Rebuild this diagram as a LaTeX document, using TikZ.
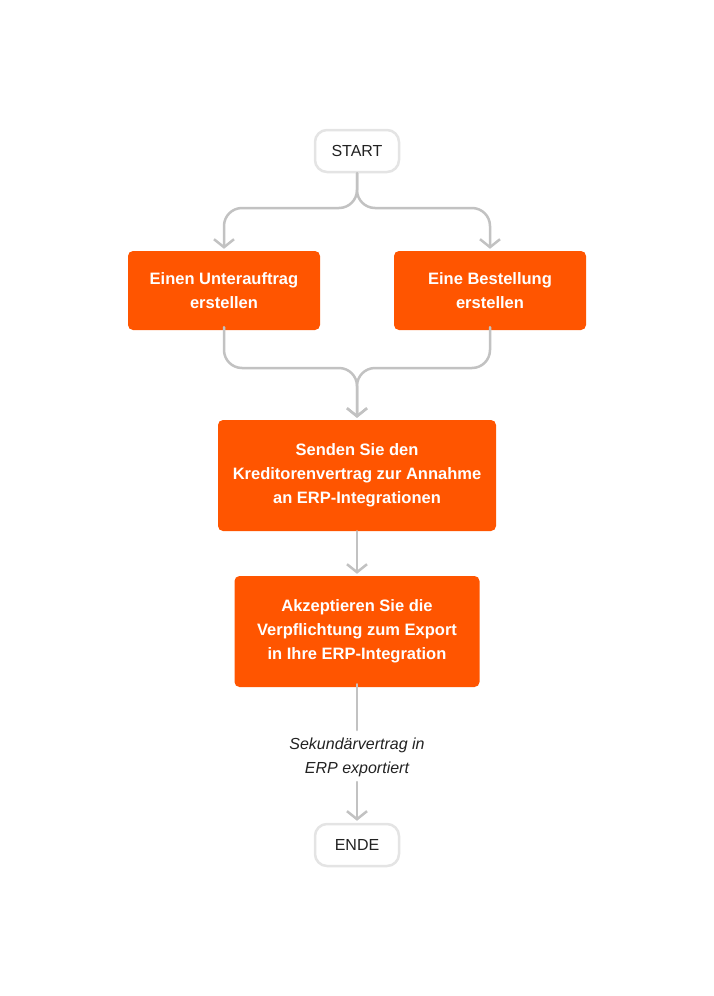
\documentclass[tikz,border=0pt]{standalone}
\usepackage{fontspec}
\setmainfont{Liberation Sans}
\usetikzlibrary{arrows.meta}
\definecolor{orng}{HTML}{FF5500}
\definecolor{lgray}{HTML}{C2C2C2}
\definecolor{bgray}{HTML}{E4E4E4}
\definecolor{txt}{HTML}{222222}
\begin{document}
\begin{tikzpicture}[x=1pt,y=-1pt,
  term/.style={draw=bgray, line width=2.5pt, rounded corners=12pt, fill=white, minimum width=84pt, minimum height=42pt, text=txt, font=\fontsize{16}{18}\selectfont},
  proc/.style={fill=orng, rounded corners=5pt, text=white, font=\bfseries\fontsize{16.5}{24}\selectfont, align=center},
  conn/.style={draw=lgray, line width=2.5pt, line cap=round, rounded corners=18pt},
  arr/.style={-{Straight Barb[length=8pt,width=20pt,line width=2.5pt]}, shorten >=2pt}
]
\useasboundingbox (0,0) rectangle (714,996);
\node[term] (start) at (357,151) {START};
\node[proc, minimum width=192pt, minimum height=79pt] (b1) at (224,290.5) {Einen Unterauftrag\\erstellen};
\node[proc, minimum width=192pt, minimum height=79pt] (b2) at (490,290.5) {Eine Bestellung\\erstellen};
\node[proc, minimum width=278pt, minimum height=111pt] (b3) at (357,475.5) {Senden Sie den\\Kreditorenvertrag zur Annahme\\an ERP-Integrationen};
\node[proc, minimum width=245pt, minimum height=111pt] (b4) at (357,631.5) {Akzeptieren Sie die\\Verpflichtung zum Export\\in Ihre ERP-Integration};
\node[text=txt, font=\itshape\fontsize{16}{24}\selectfont, align=center] (lbl) at (357,757) {Sekundärvertrag in\\ERP exportiert};
\node[term] (ende) at (357,845) {ENDE};
\coordinate (s1) at (357,208);
\coordinate (m1) at (357,368);
\draw[conn, arr] (start.south) -- (s1) -- (224,208) -- (b1.north);
\draw[conn, arr] (start.south) -- (s1) -- (490,208) -- (b2.north);
\draw[conn, arr] ([yshift=3pt]b1.south) -- (224,368) -- (m1) -- (b3.north);
\draw[conn, arr] ([yshift=3pt]b2.south) -- (490,368) -- (m1) -- (b3.north);
\draw[conn, arr] (b3.south) -- (b4.north);
\draw[conn] ([yshift=3pt]b4.south) -- ([yshift=4pt]lbl.north);
\draw[conn, arr] ([yshift=-2pt]lbl.south) -- (ende.north);
\end{tikzpicture}
\end{document}
